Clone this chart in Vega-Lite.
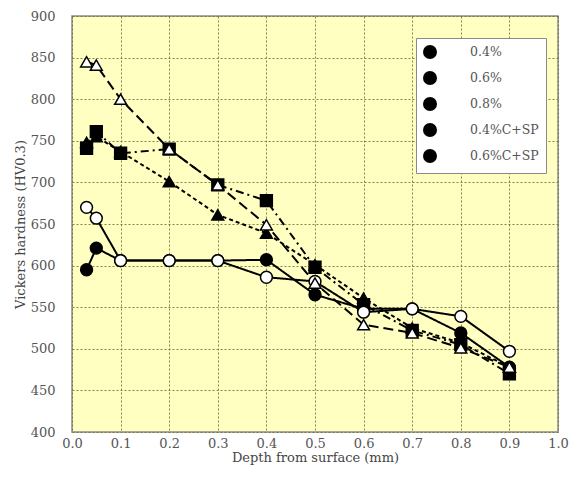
{
  "$schema": "https://vega.github.io/schema/vega-lite/v6.json",
  "width": 486,
  "height": 416,
  "autosize": {"type": "none"},
  "padding": {"left": 72, "top": 16, "right": 11, "bottom": 45},
  "background": "white",
  "config": {
    "view": {"fill": "#FFFFC2", "stroke": "#8a8a8a", "strokeWidth": 1.5},
    "font": "DejaVu Serif",
    "axis": {
      "domain": false,
      "ticks": false,
      "labelFlush": false,
      "gridColor": "#6e6e30",
      "gridDash": [2, 2],
      "gridWidth": 1,
      "gridOpacity": 0.85,
      "labelFont": "DejaVu Serif",
      "labelFontSize": 13,
      "labelColor": "#555555",
      "titleFont": "DejaVu Serif",
      "titleFontSize": 13,
      "titleFontWeight": "normal",
      "titleColor": "#444444"
    },
    "legend": {
      "orient": "none",
      "legendX": 344,
      "legendY": 22,
      "fillColor": "white",
      "strokeColor": "#8a8a8a",
      "padding": 7,
      "symbolSize": 144,
      "symbolStrokeWidth": 2,
      "rowPadding": 6,
      "labelOffset": 33,
      "labelFont": "DejaVu Serif",
      "labelFontSize": 12.5,
      "labelColor": "#555555"
    }
  },
  "data": {
    "values": [
      {"series": "0.4%", "depth": 0.03, "hv": 595},
      {"series": "0.4%", "depth": 0.05, "hv": 621},
      {"series": "0.4%", "depth": 0.1, "hv": 606},
      {"series": "0.4%", "depth": 0.2, "hv": 606},
      {"series": "0.4%", "depth": 0.3, "hv": 606},
      {"series": "0.4%", "depth": 0.4, "hv": 607},
      {"series": "0.4%", "depth": 0.5, "hv": 565},
      {"series": "0.4%", "depth": 0.6, "hv": 548},
      {"series": "0.4%", "depth": 0.7, "hv": 548},
      {"series": "0.4%", "depth": 0.8, "hv": 519},
      {"series": "0.4%", "depth": 0.9, "hv": 478},
      {"series": "0.6%", "depth": 0.03, "hv": 748},
      {"series": "0.6%", "depth": 0.05, "hv": 755},
      {"series": "0.6%", "depth": 0.1, "hv": 737},
      {"series": "0.6%", "depth": 0.2, "hv": 701},
      {"series": "0.6%", "depth": 0.3, "hv": 661},
      {"series": "0.6%", "depth": 0.4, "hv": 639},
      {"series": "0.6%", "depth": 0.5, "hv": 601},
      {"series": "0.6%", "depth": 0.6, "hv": 561},
      {"series": "0.6%", "depth": 0.7, "hv": 525},
      {"series": "0.6%", "depth": 0.8, "hv": 507},
      {"series": "0.6%", "depth": 0.9, "hv": 478},
      {"series": "0.8%", "depth": 0.03, "hv": 741},
      {"series": "0.8%", "depth": 0.05, "hv": 761},
      {"series": "0.8%", "depth": 0.1, "hv": 735},
      {"series": "0.8%", "depth": 0.2, "hv": 740},
      {"series": "0.8%", "depth": 0.3, "hv": 697},
      {"series": "0.8%", "depth": 0.4, "hv": 678},
      {"series": "0.8%", "depth": 0.5, "hv": 598},
      {"series": "0.8%", "depth": 0.6, "hv": 553},
      {"series": "0.8%", "depth": 0.7, "hv": 522},
      {"series": "0.8%", "depth": 0.8, "hv": 505},
      {"series": "0.8%", "depth": 0.9, "hv": 470},
      {"series": "0.4%C+SP", "depth": 0.03, "hv": 670},
      {"series": "0.4%C+SP", "depth": 0.05, "hv": 657},
      {"series": "0.4%C+SP", "depth": 0.1, "hv": 606},
      {"series": "0.4%C+SP", "depth": 0.2, "hv": 606},
      {"series": "0.4%C+SP", "depth": 0.3, "hv": 606},
      {"series": "0.4%C+SP", "depth": 0.4, "hv": 586},
      {"series": "0.4%C+SP", "depth": 0.5, "hv": 581},
      {"series": "0.4%C+SP", "depth": 0.6, "hv": 544},
      {"series": "0.4%C+SP", "depth": 0.7, "hv": 548},
      {"series": "0.4%C+SP", "depth": 0.8, "hv": 539},
      {"series": "0.4%C+SP", "depth": 0.9, "hv": 497},
      {"series": "0.6%C+SP", "depth": 0.03, "hv": 845},
      {"series": "0.6%C+SP", "depth": 0.05, "hv": 841},
      {"series": "0.6%C+SP", "depth": 0.1, "hv": 800},
      {"series": "0.6%C+SP", "depth": 0.2, "hv": 740},
      {"series": "0.6%C+SP", "depth": 0.3, "hv": 697},
      {"series": "0.6%C+SP", "depth": 0.4, "hv": 649},
      {"series": "0.6%C+SP", "depth": 0.5, "hv": 579},
      {"series": "0.6%C+SP", "depth": 0.6, "hv": 529},
      {"series": "0.6%C+SP", "depth": 0.7, "hv": 519},
      {"series": "0.6%C+SP", "depth": 0.8, "hv": 501},
      {"series": "0.6%C+SP", "depth": 0.9, "hv": 478}
    ]
  },
  "encoding": {
    "x": {
      "field": "depth",
      "type": "quantitative",
      "scale": {"domain": [0, 1]},
      "axis": {"values": [0, 0.1, 0.2, 0.3, 0.4, 0.5, 0.6, 0.7, 0.8, 0.9, 1.0], "format": ".1f", "labelPadding": 5, "title": "Depth from surface (mm)", "titlePadding": 1}
    },
    "y": {
      "field": "hv",
      "type": "quantitative",
      "scale": {"domain": [400, 900]},
      "axis": {"values": [400, 450, 500, 550, 600, 650, 700, 750, 800, 850, 900], "labelPadding": 17, "title": "Vickers hardness (HV0.3)", "titlePadding": 3}
    }
  },
  "layer": [
    {
      "mark": {"type": "line", "stroke": "black", "strokeWidth": 2},
      "encoding": {
        "detail": {"field": "series"},
        "strokeDash": {
          "field": "series",
          "type": "nominal",
          "scale": {
            "domain": ["0.6%C+SP", "0.4%C+SP", "0.8%", "0.6%", "0.4%"],
            "range": [[10, 5], [1, 0], [8, 4, 2, 4], [4, 3], [1, 0]]
          },
          "legend": null
        }
      }
    },
    {
      "mark": {"type": "point", "filled": true, "stroke": "black", "strokeWidth": 1.5, "size": 140, "opacity": 1},
      "encoding": {
        "shape": {
          "field": "series",
          "type": "nominal",
          "scale": {
            "domain": ["0.6%C+SP", "0.4%C+SP", "0.8%", "0.6%", "0.4%"],
            "range": ["triangle-up", "circle", "square", "triangle-up", "circle"]
          },
          "legend": null
        },
        "fill": {
          "field": "series",
          "type": "nominal",
          "scale": {
            "domain": ["0.6%C+SP", "0.4%C+SP", "0.8%", "0.6%", "0.4%"],
            "range": ["white", "white", "black", "black", "black"]
          },
          "legend": null
        },
        "opacity": {
          "field": "series",
          "type": "nominal",
          "scale": {
            "domain": ["0.4%", "0.6%", "0.8%", "0.4%C+SP", "0.6%C+SP"],
            "range": [1, 1, 1, 1, 1]
          },
          "legend": {
            "title": null,
            "encode": {
              "symbols": {
                "update": {
                  "shape": {"signal": "datum.value === '0.4%' ? 'M-1,0H5.67M1.48,0A0.85,0.85 0 1 0 3.18,0A0.85,0.85 0 1 0 1.48,0Z' : datum.value === '0.6%' ? 'M-1,0H-0.25M0.3,0H1.1M3.6,0H4.4M4.95,0H5.67M2.33,-1L3.38,0.8L1.28,0.8Z' : datum.value === '0.8%' ? 'M-1,0H1.5M1.5,-0.83H3.17V0.83H1.5ZM4.1,0H4.45' : datum.value === '0.4%C+SP' ? 'M-1,0H1.48M3.18,0H5.67M1.48,0A0.85,0.85 0 1 0 3.18,0A0.85,0.85 0 1 0 1.48,0Z' : 'M-0.8,0H0.9M3.3,0H3.9M2.33,-1L3.38,0.8L1.28,0.8Z'"},
                  "fill": {"signal": "(datum.value === '0.4%C+SP' || datum.value === '0.6%C+SP') ? 'white' : 'black'"},
                  "stroke": {"value": "black"},
                  "strokeWidth": {"value": 2},
                  "strokeDash": {"value": [1, 0]},
                  "fillOpacity": {"value": 1},
                  "strokeOpacity": {"value": 1}
                }
              }
            }
          }
        }
      }
    }
  ]
}
